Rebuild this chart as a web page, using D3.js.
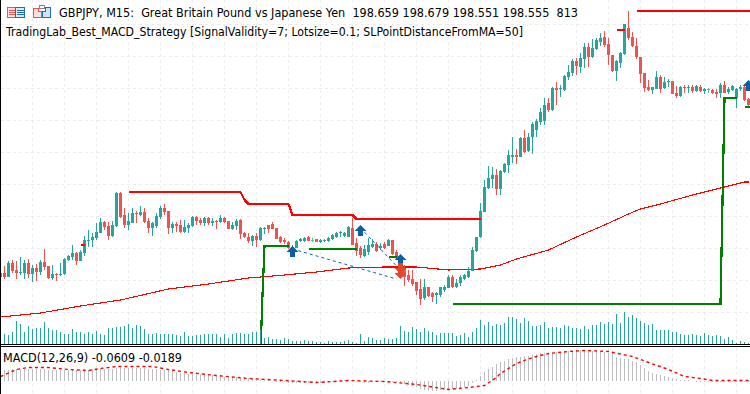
<!DOCTYPE html>
<html><head><meta charset="utf-8">
<script src="https://cdnjs.cloudflare.com/ajax/libs/d3/7.8.5/d3.min.js"></script>
<style>html,body{margin:0;padding:0;background:#fff}svg{display:block}text{font-family:"DejaVu Sans",sans-serif;white-space:pre;fill:#000}</style>
</head><body><div id="chart"></div>
<script>
// prices are expressed as pips above a session base
const opens=[73,77,73,87,80,77,77,87,76,82,78,88,84,72,76,75,76,90,93,97,89,97,109,110,112,117,128,124,114,124,157,135,125,127,137,135,138,129,122,124,133,142,139,122,126,125,118,122,124,133,130,127,132,127,129,128,132,129,121,124,130,117,113,109,114,110,121,125,126,122,113,110,108,101,102,109,109,113,109,111,108,109,109,111,113,117,114,113,122,107,102,94,98,103,106,102,106,104,110,98,87,82,75,71,68,61,52,63,57,55,55,60,62,73,63,67,71,73,79,99,113,138,162,171,175,161,178,185,193,195,193,212,199,213,220,228,229,247,240,262,261,260,273,277,289,283,291,303,293,301,308,313,306,295,279,287,296,322,313,304,293,277,263,260,261,273,262,268,269,257,254,263,262,263,259,263,259,260,260,258,257,265,258,260,252,261,263,251];
const highs=[79,84,89,90,89,93,90,91,85,86,90,101,84,85,77,87,92,95,105,98,100,114,120,117,127,132,129,128,129,158,158,142,137,142,139,144,142,132,128,137,144,146,139,128,128,130,130,127,134,134,132,133,133,132,130,135,133,129,128,131,131,118,117,115,117,123,123,125,128,122,114,112,109,105,110,112,113,114,112,111,111,111,113,116,118,119,118,124,132,112,104,105,112,111,108,107,108,111,110,100,95,85,80,80,68,71,71,63,58,58,63,65,75,75,71,75,76,83,103,113,147,170,184,183,181,180,187,200,213,201,213,220,217,228,231,242,252,252,263,268,265,275,285,291,292,297,307,307,311,312,317,319,312,295,290,298,326,339,318,312,293,277,270,263,279,275,273,271,269,264,264,265,265,265,265,265,262,262,261,261,267,269,263,265,262,265,264,252];
const lows=[68,71,73,77,71,75,71,72,68,69,75,80,71,70,69,74,75,89,90,85,89,94,103,103,110,117,120,110,113,123,132,122,120,127,127,134,127,117,114,122,131,135,116,117,118,117,117,117,123,125,125,124,125,124,121,127,127,121,120,120,111,112,107,104,103,109,116,117,121,111,107,106,101,101,102,108,108,109,108,108,107,108,108,110,112,113,113,113,105,94,92,93,95,102,98,100,101,104,95,90,77,64,68,64,55,45,50,53,48,46,53,58,62,62,62,64,70,72,79,98,112,138,161,162,155,155,177,177,187,186,193,197,198,196,213,225,225,238,239,245,253,259,270,274,275,277,282,283,292,300,304,303,285,278,269,282,295,310,303,291,267,258,259,256,261,257,261,263,256,252,253,257,257,257,258,258,256,257,256,252,252,257,256,259,242,259,249,243];
const closes=[77,73,87,79,77,78,87,76,82,78,88,83,72,76,75,76,91,94,97,89,98,110,110,113,118,128,123,114,125,157,133,125,129,137,136,138,128,122,127,134,142,138,122,126,124,118,123,125,133,129,127,132,127,129,128,132,128,121,125,129,116,113,109,114,110,122,122,121,121,111,108,108,102,103,109,111,112,109,110,108,110,110,112,115,117,118,117,123,105,99,95,101,105,106,99,104,102,110,96,93,81,73,70,66,59,51,63,54,53,57,63,63,73,63,67,73,75,79,100,113,139,163,172,175,161,179,186,195,195,193,212,198,213,226,229,238,245,240,262,260,262,274,278,289,284,292,303,293,302,310,312,305,295,279,289,297,326,312,304,293,276,262,260,263,273,261,268,269,256,254,263,262,263,259,264,259,261,261,257,256,265,257,261,264,261,263,250,245];
const dojiBars=[78,177];
// tick volume and MACD (arbitrary display units)
const volumes=[10,10,9,12,23,20,12,18,15,16,16,22,16,14,14,12,10,10,15,12,12,10,12,10,13,10,9,16,16,17,17,18,20,16,19,18,15,10,10,11,10,10,10,10,9,8,12,8,8,9,9,10,10,10,10,7,10,6,10,11,11,10,10,12,12,14,6,7,5,5,4,6,5,3,3,3,4,3,3,2,2,1,3,2,2,2,3,4,2,1,10,3,7,6,4,4,6,5,5,6,18,13,12,17,15,12,16,13,12,9,11,11,11,11,8,9,11,7,12,16,24,19,22,18,20,19,21,27,27,25,21,26,23,18,18,19,22,16,17,17,16,19,18,16,16,15,18,15,19,19,22,20,22,20,30,21,32,27,29,26,23,21,19,20,14,14,14,14,12,12,10,9,9,10,9,8,11,9,8,9,8,5,7,4,1,3,2,1];
const macdHist=[10,11,11,12,12,12,12,12,12,12,12,12,11,11,11,11,11,11,11,11,11,12,11,12,12,12,12,12,12,13,13,13,13,13,13,13,13,12,12,12,11,11,11,10,9,8,8,7,7,6,7,6,6,6,5,5,4,4,4,4,3,3,3,2,1,1,0.5,0.5,-0.5,-1,-1,-1,-2,-2,-2,-2,-2,-2,-2,-2,-2,-2,-1,-1,-1,-1,0.5,0.5,0.5,-1,-1,-2,-2,-1,-1,-1,-1,-1,-1,-1,-2,-3,-4,-5,-6,-8,-9,-10,-10,-10,-9,-9,-9,-8,-8,-7,-6,-5,-2,0.5,5,9,12,14,17,19,20,22,23,24,24,25,25,26,27,28,28,28,29,29,29,30,30,30,31,31,30,30,30,30,29,29,28,28,24,23,22,22,20,19,16,13,10,8,7,6,5,4,3,2,1,0.5,0.5,-0.5,-1,-1,-1,-1,-1,-1,-1,-1,-1,-1,-1,-1,-1,-1];
const signalBars=[0,4,7,12,17,22,25,29,38,42,47,54,62,71,79,87,96,104,112,117,121,124,125,129,133,137,142,146,152,158,162,167,171,175,178,187];
const signalVals=[4,11,13,13,11,10,12,14,14,11,8,5,2,0,-2,0,-1,-4,-9,-7,-5,3,7,17,23,27,29,30,29,24,18,11,4,2,0,0];
// moving average
const maBars=[0,10,20,30,42,52,62,71,79,87,96,104,112,120,125,129,137,144,151,157,160,165,173,181,186,187];
const maVals=[33,37,44,50,61,66,72,75,78,82,83,83,80,81,85,91,100,113,125,136,141,146,155,163,168,168];
// strategy stop levels
const redStops=[
 {bars:[20,21],vals:[105,105]},
 {bars:[32,60,61,62,72,73,88,89,120],vals:[158,158,150,146,146,135,135,131,131]},
 {bars:[154,156],vals:[320,320]},
 {bars:[159,188],vals:[339,339]}];
const greenStops=[
 {bars:[65,65.5,66,72],vals:[-2,55,104,104]},
 {bars:[77,89],vals:[101,101]},
 {bars:[97,99],vals:[93,93]},
 {bars:[113,180,181,184],vals:[46,46,252,252]},
 {bars:[186,188],vals:[243,243]}];
const buyBars=[73,90,100,187],buyVals=[98,119,90,264];
const sellBars=[100,100],sellVals=[82,77];
const tradeBars=[[73,99],[90,99.5]],tradeVals=[[101,71],[122,82]];
const titleText="GBPJPY, M15:  Great Britain Pound vs Japanese Yen  198.659 198.679 198.551 198.555  813";
const eaText="TradingLab_Best_MACD_Strategy [SignalValidity=7; Lotsize=0.1; SLPointDistanceFromMA=50]";
const macdText="MACD(12,26,9) -0.0609 -0.0189";

const W=750,H=394,TEAL="#26a69a",RED="#ef5350",BLUE="#0b5fa5",ORANGE="#e2472a";
const svg=d3.select("#chart").append("svg").attr("width",W).attr("height",H);
const x=d3.scaleLinear().domain([0,187]).range([0.5,748.5]);
const y=d3.scaleLinear().domain([0,350]).range([350,0]);
const yVol=d3.scaleLinear().domain([0,100]).range([344,244]);
const yMacd=d3.scaleLinear().domain([-20,40]).range([400.5,340.5]);

svg.append("defs").append("clipPath").attr("id","main").append("rect").attr("width",W).attr("height",344);
// grid
const grid=svg.append("g").attr("stroke","#ececec").attr("stroke-dasharray","3,3").attr("shape-rendering","crispEdges");
grid.selectAll(".v").data(d3.range(32.5,W,32)).join("line").attr("x1",d=>d).attr("x2",d=>d).attr("y1",0).attr("y2",H);
grid.selectAll(".h").data(d3.range(24.5,344,32)).join("line").attr("x1",1).attr("x2",W).attr("y1",d=>d).attr("y2",d=>d);

const main=svg.append("g").attr("clip-path","url(#main)");
const line=d3.line().x(d=>x(d[0])).y(d=>y(d[1]));
const pair=(b,v)=>b.map((d,i)=>[d,v[i]]);
// MA
main.append("path").attr("d",line(pair(maBars,maVals))).attr("fill","none").attr("stroke","#ff0000").attr("stroke-width",1.1).attr("shape-rendering","crispEdges");
// candles
const colour=i=>dojiBars.includes(i)?"#62bd8c":(closes[i]>=opens[i]?TEAL:RED);
const idx=d3.range(opens.length);
main.append("g").attr("shape-rendering","crispEdges").selectAll("line").data(idx).join("line")
 .attr("x1",i=>x(i)).attr("x2",i=>x(i)).attr("y1",i=>y(highs[i])).attr("y2",i=>y(lows[i])).attr("stroke",colour);
main.append("g").attr("shape-rendering","crispEdges").selectAll("rect").data(idx).join("rect")
 .attr("x",i=>x(i)-1.5).attr("width",3)
 .attr("y",i=>y(Math.max(opens[i],closes[i])))
 .attr("height",i=>Math.max(1,Math.abs(opens[i]-closes[i])))
 .attr("fill",colour);
// stops
const stops=(arr,col)=>main.append("g").attr("shape-rendering","crispEdges").selectAll("path").data(arr).join("path")
 .attr("d",d=>line(pair(d.bars,d.vals))).attr("fill","none").attr("stroke",col).attr("stroke-width",2.2);
stops(redStops,"#ff0000");stops(greenStops,"#008000");
// trades
main.append("g").selectAll("path").data(tradeBars).join("path")
 .attr("d",(d,i)=>line(pair(d,tradeVals[i]))).attr("fill","none").attr("stroke",BLUE).attr("stroke-width",1).attr("stroke-dasharray","3,3");
// arrows
const arrow=s=>{const p=d3.path();p.moveTo(0,-6*s);p.lineTo(6*s,0);p.lineTo(2.5*s,0);p.lineTo(2.5*s,5*s);p.lineTo(-2.5*s,5*s);p.lineTo(-2.5*s,0);p.lineTo(-6*s,0);p.closePath();return p.toString();};
main.append("g").selectAll("path").data(buyBars).join("path").attr("d",arrow(1)).attr("fill",BLUE)
 .attr("transform",(d,i)=>`translate(${x(d)},${y(buyVals[i])})`);
main.append("g").selectAll("path").data(sellBars).join("path").attr("d",arrow(-1)).attr("fill",ORANGE)
 .attr("transform",(d,i)=>`translate(${x(d)},${y(sellVals[i])})`);
// volume
svg.append("g").attr("shape-rendering","crispEdges").selectAll("line").data(volumes).join("line")
 .attr("x1",(d,i)=>x(i)).attr("x2",(d,i)=>x(i)).attr("y1",d=>yVol(d)).attr("y2",yVol(0)).attr("stroke",TEAL);
// MACD
svg.append("g").attr("shape-rendering","crispEdges").selectAll("line").data(macdHist).join("line")
 .attr("x1",(d,i)=>x(i)).attr("x2",(d,i)=>x(i)).attr("y1",d=>yMacd(d)).attr("y2",yMacd(0)).attr("stroke","#bdbdbd");
svg.append("path").attr("d",d3.line().x(d=>x(d[0])).y(d=>yMacd(d[1]))(pair(signalBars,signalVals)))
 .attr("fill","none").attr("stroke","#ff0000").attr("stroke-width",1.4).attr("stroke-dasharray","3,3");
// frame
const frame=svg.append("g").attr("stroke","#000").attr("shape-rendering","crispEdges");
frame.append("line").attr("x1",0.5).attr("x2",0.5).attr("y1",0).attr("y2",H);
frame.append("line").attr("x1",0).attr("x2",W).attr("y1",344.5).attr("y2",344.5);
frame.append("line").attr("x1",0).attr("x2",W).attr("y1",346.5).attr("y2",346.5);
// icons
const ic=svg.append("g").attr("fill","none").attr("shape-rendering","crispEdges");
ic.append("rect").attr("x",7.5).attr("y",7.5).attr("width",8).attr("height",10).attr("stroke","#e4574c").attr("fill","#fde3df");
ic.append("rect").attr("x",15.5).attr("y",7.5).attr("width",9).attr("height",10).attr("stroke","#1c6fb5").attr("fill","#dcebf7");
[10.5,12.5,14.5].forEach(v=>{ic.append("line").attr("x1",9).attr("x2",15).attr("y1",v).attr("y2",v).attr("stroke","#e4574c");ic.append("line").attr("x1",17).attr("x2",24).attr("y1",v).attr("y2",v).attr("stroke","#1c6fb5");});
ic.append("path").attr("d","M33.5 8.5h5v3h3v6h-8z").attr("stroke","#e4574c").attr("fill","#fde3df");
ic.append("path").attr("d","M42.5 17.5v-6h3v-4h5v10z").attr("stroke","#1c6fb5").attr("fill","#cfe3f5");
ic.append("rect").attr("x",39.5).attr("y",5.5).attr("width",5).attr("height",3).attr("stroke","#888").attr("fill","#fff");
// texts
const txt=(s,px,py,len)=>svg.append("text").attr("x",px).attr("y",py).attr("font-size",12)
 .attr("textLength",len).attr("lengthAdjust","spacingAndGlyphs").text(s);
txt(titleText,59,17,519);txt(eaText,6,36,517);txt(macdText,3,362,179);
</script></body></html>
